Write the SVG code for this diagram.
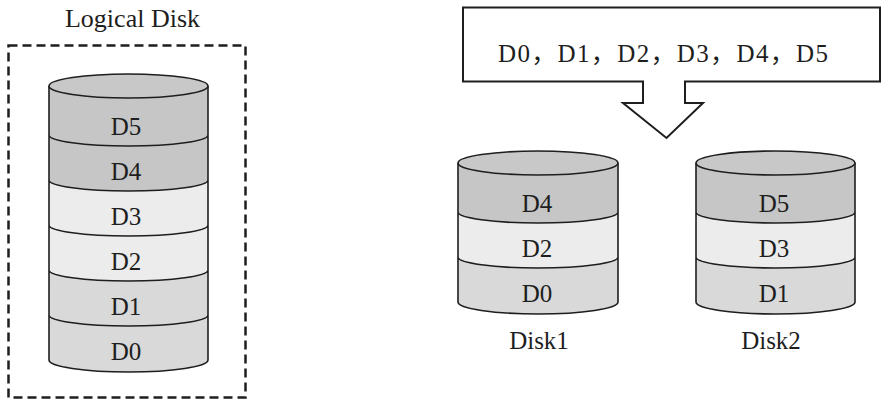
<svg xmlns="http://www.w3.org/2000/svg" width="881" height="401" viewBox="0 0 881 401">
<style>
.t{font-family:"Liberation Serif","Noto Sans CJK SC",serif;font-size:25px;fill:#1e1e1e;text-anchor:middle}
.dk{fill:#c6c6c6}
.lt{fill:#ececec}
.md{fill:#d9d9d9}
.ol{fill:none;stroke:#1e1e1e;stroke-width:1.6}
</style>
<rect width="881" height="401" fill="#fff"/>
<g id="logical-disk">
<rect x="8.5" y="45.5" width="237" height="352" fill="none" stroke="#1e1e1e" stroke-width="2.5" stroke-dasharray="9,5"/>
<text class="t" x="132.5" y="27" style="font-size:26px">Logical Disk</text>
<path class="dk" d="M49,86 L208,86 L208,135 A79.5,11 0 0 1 49,135 Z"/>
<path class="dk" d="M49,135 A79.5,11 0 0 0 208,135 L208,180 A79.5,11 0 0 1 49,180 Z"/>
<path class="lt" d="M49,180 A79.5,11 0 0 0 208,180 L208,225 A79.5,11 0 0 1 49,225 Z"/>
<path class="lt" d="M49,225 A79.5,11 0 0 0 208,225 L208,270 A79.5,11 0 0 1 49,270 Z"/>
<path class="md" d="M49,270 A79.5,11 0 0 0 208,270 L208,315 A79.5,11 0 0 1 49,315 Z"/>
<path class="md" d="M49,315 A79.5,11 0 0 0 208,315 L208,360 A79.5,12 0 0 1 49,360 Z"/>
<path class="ol" d="M49,86 L49,360 A79.5,12 0 0 0 208,360 L208,86 M49,135 A79.5,11 0 0 0 208,135 M49,180 A79.5,11 0 0 0 208,180 M49,225 A79.5,11 0 0 0 208,225 M49,270 A79.5,11 0 0 0 208,270 M49,315 A79.5,11 0 0 0 208,315"/>
<ellipse cx="128.5" cy="86" rx="79.5" ry="12" fill="#c8c8c8" stroke="#1e1e1e" stroke-width="1.6"/>
<text class="t" x="126" y="135">D5</text>
<text class="t" x="126" y="180">D4</text>
<text class="t" x="126" y="225">D3</text>
<text class="t" x="126" y="270">D2</text>
<text class="t" x="126" y="315">D1</text>
<text class="t" x="126" y="360">D0</text>
</g>
<g id="connectors">
<path d="M463,7.5 L880,7.5 L880,81.5 L685,81.5 L685,103 L703,103 L666.5,138 L623,103 L643,103 L643,81.5 L463,81.5 Z" fill="#fff" stroke="#1e1e1e" stroke-width="2"/>
</g>
<g id="sequence">
<text class="t" x="498" y="62" style="text-anchor:start" textLength="330" lengthAdjust="spacing">D0，D1，D2，D3，D4，D5</text>
</g>
<g id="disk1">
<path class="dk" d="M458,163 L618,163 L618,212 A80,11 0 0 1 458,212 Z"/>
<path class="lt" d="M458,212 A80,11 0 0 0 618,212 L618,257 A80,11 0 0 1 458,257 Z"/>
<path class="md" d="M458,257 A80,11 0 0 0 618,257 L618,302 A80,12 0 0 1 458,302 Z"/>
<path class="ol" d="M458,163 L458,302 A80,12 0 0 0 618,302 L618,163 M458,212 A80,11 0 0 0 618,212 M458,257 A80,11 0 0 0 618,257"/>
<ellipse cx="538" cy="163" rx="80" ry="12" fill="#c8c8c8" stroke="#1e1e1e" stroke-width="1.6"/>
<text class="t" x="537" y="212">D4</text>
<text class="t" x="537" y="257">D2</text>
<text class="t" x="537" y="302">D0</text>
<text class="t" x="539" y="349">Disk1</text>
</g>
<g id="disk2">
<path class="dk" d="M696,163 L855,163 L855,212 A79.5,11 0 0 1 696,212 Z"/>
<path class="lt" d="M696,212 A79.5,11 0 0 0 855,212 L855,257 A79.5,11 0 0 1 696,257 Z"/>
<path class="md" d="M696,257 A79.5,11 0 0 0 855,257 L855,302 A79.5,12 0 0 1 696,302 Z"/>
<path class="ol" d="M696,163 L696,302 A79.5,12 0 0 0 855,302 L855,163 M696,212 A79.5,11 0 0 0 855,212 M696,257 A79.5,11 0 0 0 855,257"/>
<ellipse cx="775.5" cy="163" rx="79.5" ry="12" fill="#c8c8c8" stroke="#1e1e1e" stroke-width="1.6"/>
<text class="t" x="774" y="212">D5</text>
<text class="t" x="774" y="257">D3</text>
<text class="t" x="774" y="302">D1</text>
<text class="t" x="771" y="349">Disk2</text>
</g>
</svg>
